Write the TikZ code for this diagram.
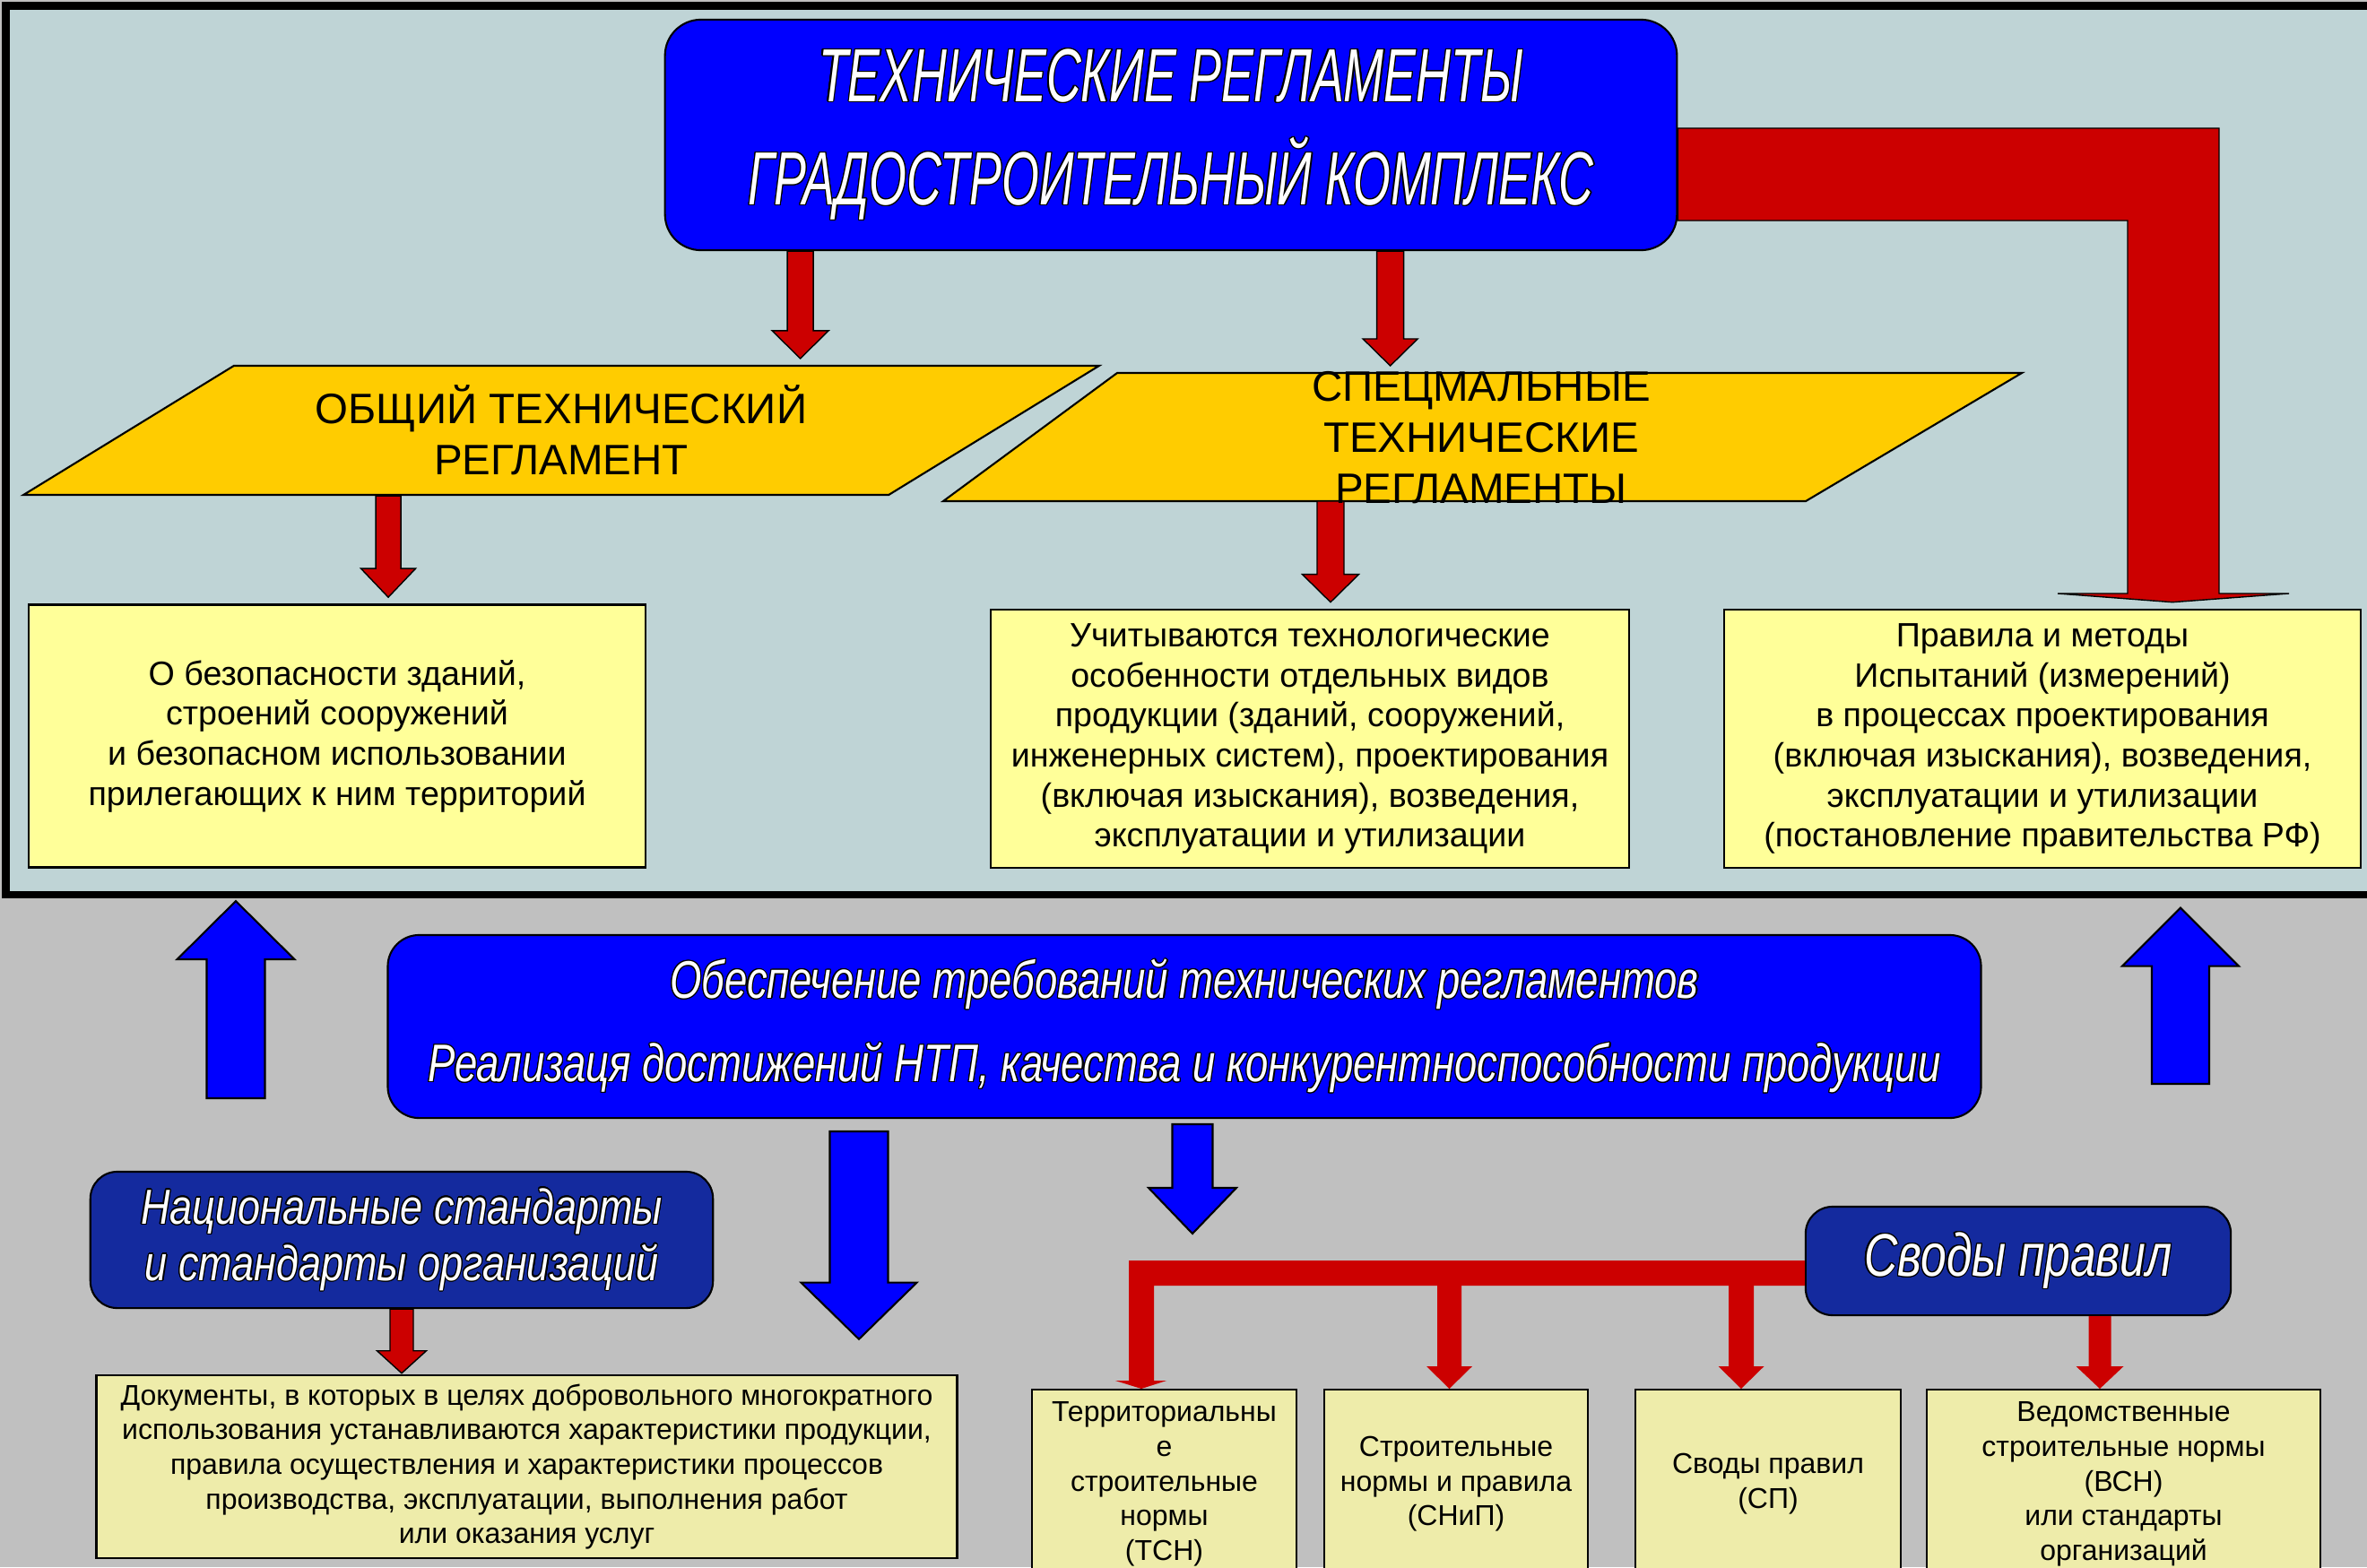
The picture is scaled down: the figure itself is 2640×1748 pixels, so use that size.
\documentclass[tikz,border=0pt]{standalone}
\usepackage{fontspec}
\setmainfont{Liberation Sans}
\newfontfamily\titlefont[FakeStretch=0.64]{Liberation Sans}
\newfontfamily\narrowfont[FakeStretch=0.77]{Liberation Sans}
\newfontfamily\semifont[FakeStretch=0.82]{Liberation Sans}
\usepackage[copies]{contour}
\contourlength{0.35pt}
\usetikzlibrary{calc,shapes.geometric}

\definecolor{paneltint}{RGB}{191,212,214}
\definecolor{backgray}{RGB}{192,192,192}
\definecolor{titleblue}{RGB}{0,0,255}
\definecolor{darkblue}{RGB}{20,42,158}
\definecolor{arrowred}{RGB}{204,0,0}
\definecolor{paragold}{RGB}{255,204,0}
\definecolor{noteyellow}{RGB}{255,255,153}
\definecolor{paleyellow}{RGB}{238,236,170}

\newcommand{\outl}[1]{\contour{black}{#1}}
% style, from, towards, shaft half, head half, head length, gap
\newcommand{\blockarrow}[7]{%
  \coordinate (ba-end) at (#2 |- #3);
  \coordinate (ba-tip) at ($(ba-end)!#7!(#2)$);
  \coordinate (ba-neck) at ($(ba-tip)!#6!(#2)$);
  \path[#1] ($(#2)+(-#4,0)$) -- ($(ba-neck)+(-#4,0)$) -- ($(ba-neck)+(-#5,0)$) -- (ba-tip)
    -- ($(ba-neck)+(#5,0)$) -- ($(ba-neck)+(#4,0)$) -- ($(#2)+(#4,0)$) -- cycle;
}

\begin{document}
\begin{tikzpicture}[x=0.01cm,y=-0.01cm,
    bluebox/.style={rectangle, draw=black, line width=0.6pt, rounded corners=0.4cm, fill=titleblue, text=white, align=center},
    darkbox/.style={bluebox, fill=darkblue, rounded corners=0.3cm},
    para/.style={trapezium, draw=black, line width=0.6pt, fill=paragold, trapezium stretches=true, inner sep=1pt},
    parashape/.style={draw=black, line width=0.6pt, fill=paragold},
    paratext/.style={align=center, font=\fontsize{13.5}{16.2}\selectfont},
    note/.style={rectangle, draw=black, line width=0.7pt, fill=noteyellow, align=center, inner sep=2pt, font=\fontsize{10.7}{12.7}\selectfont},
    lownote/.style={note, fill=paleyellow, font=\fontsize{9.1}{11}\selectfont},
    redarrow/.style={fill=arrowred, draw=black, line width=0.4pt},
    bluearrow/.style={fill=titleblue, draw=black, line width=0.6pt},
    busarrow/.style={fill=arrowred}]
  \clip (0,0) rectangle (2640,1748);
  \fill[backgray] (0,0) rectangle (2640,1748);
  \node[draw=black, line width=2.3pt, fill=paneltint, outer sep=0pt, minimum width=27cm, minimum height=9.91cm, anchor=north west] (panel) at (6.5,6.5) {};

  \node[bluebox, minimum width=11.28cm, minimum height=2.57cm, font=\titlefont\itshape\fontsize{23.9}{32.7}\selectfont] (techreg) at (1306,150.5)
    {\outl{ТЕХНИЧЕСКИЕ РЕГЛАМЕНТЫ}\\\outl{ГРАДОСТРОИТЕЛЬНЫЙ КОМПЛЕКС}};

  \node[para, trapezium left angle=31, trapezium right angle=149, minimum width=12.02cm, minimum height=1.44cm, paratext] (general) at (626,480)
    {ОБЩИЙ ТЕХНИЧЕСКИЙ\\РЕГЛАМЕНТ};
  \path[parashape] (1246,416) coordinate (sp-top) -- (2255,416) -- (2014,559) -- (1052,559) coordinate (sp-bottom) -- cycle;

  \node[note, minimum width=6.88cm, minimum height=2.93cm] (safety) at (376,821)
    {О безопасности зданий,\\строений сооружений\\и безопасном использовании\\прилегающих к ним территорий};
  \node[note, minimum width=7.12cm, minimum height=2.88cm] (features) at (1461,824)
    {Учитываются технологические\\особенности отдельных видов\\продукции (зданий, сооружений,\\инженерных систем), проектирования\\(включая изыскания), возведения,\\эксплуатации и утилизации};
  \node[note, minimum width=7.10cm, minimum height=2.88cm] (rules) at (2278,824)
    {Правила и методы\\Испытаний (измерений)\\в процессах проектирования\\(включая изыскания), возведения,\\эксплуатации и утилизации\\(постановление правительства РФ)};

  \path[redarrow] (techreg.east |- 0,143) -| (2475,662) -- ++(78,0) -- ($(rules.north -| 2423,0)+(0,-7)$)
    -- (2295,662) -- ++(78,0) |- (techreg.east |- 0,246) -- cycle;
  \coordinate (a1) at ($(techreg.south west)+(152,0)$);
  \coordinate (a2) at ($(techreg.south west)+(810,0)$);
  \coordinate (a3) at ($(general.south)+(-193,0)$);
  \coordinate (a4) at (1484,0 |- sp-bottom);
  \blockarrow{redarrow}{a1}{general.north}{14.5}{31.5}{0.31cm}{0.07cm}
  \blockarrow{redarrow}{a2}{sp-top}{15}{30.5}{0.30cm}{0.08cm}
  \blockarrow{redarrow}{a3}{safety.north}{14}{30.5}{0.32cm}{0.07cm}
  \blockarrow{redarrow}{a4}{features.north}{15}{31.5}{0.31cm}{0.07cm}
  \node[paratext] (special) at (1652,488.5) {СПЕЦМАЛЬНЫЕ\\ТЕХНИЧЕСКИЕ\\РЕГЛАМЕНТЫ};

  \node[bluebox, rounded corners=0.35cm, minimum width=17.76cm, minimum height=2.04cm, font=\narrowfont\itshape\fontsize{16.8}{26.5}\selectfont] (ensure) at (1321,1145)
    {\outl{Обеспечение требований технических регламентов}\\\outl{Реализаця достижений НТП, качества и конкурентноспособности продукции}};
  \coordinate (u1) at (263,1225);
  \coordinate (u2) at (2432,1209);
  \blockarrow{bluearrow}{u1}{panel.south}{32.5}{65.5}{0.65cm}{0.07cm}
  \blockarrow{bluearrow}{u2}{panel.south}{32}{65}{0.65cm}{0.145cm}

  \node[darkbox, minimum width=6.94cm, minimum height=1.52cm, font=\semifont\itshape\fontsize{15.6}{17.9}\selectfont] (national) at (448,1383)
    {\outl{Национальные стандарты}\\\outl{и стандарты организаций}};
  \node[lownote, minimum width=9.59cm, minimum height=2.04cm] (docs) at (587.5,1636)
    {Документы, в которых в целях добровольного многократного\\использования устанавливаются характеристики продукции,\\правила осуществления и характеристики процессов\\производства, эксплуатации, выполнения работ\\или оказания услуг};
  \blockarrow{redarrow}{national.south}{docs.north}{13}{27.5}{0.25cm}{0.01cm}
  \coordinate (d1) at (958,1262);
  \blockarrow{bluearrow}{d1}{docs.north}{32.5}{64.5}{0.63cm}{0.39cm}

  \node[darkbox, minimum width=4.74cm, minimum height=1.21cm, font=\narrowfont\itshape\fontsize{19.1}{23}\selectfont] (codes) at (2251,1406.5)
    {\outl{Своды правил}};
  \node[lownote, minimum width=2.95cm, minimum height=2.10cm, anchor=north] (tsn) at (1298.5,1549)
    {Территориальны\\е\\строительные\\нормы\\(ТСН)};
  \node[lownote, minimum width=2.94cm, minimum height=2.10cm, anchor=north] (snip) at (1624,1549)
    {Строительные\\нормы и правила\\(СНиП)};
  \node[lownote, minimum width=2.96cm, minimum height=2.10cm, anchor=north] (sp) at (1972,1549)
    {Своды правил\\(СП)};
  \node[lownote, minimum width=4.39cm, minimum height=2.10cm, anchor=north] (vsn) at (2368.5,1549)
    {Ведомственные\\строительные нормы\\(ВСН)\\или стандарты\\организаций};

  \coordinate (bus) at (1259,1406);
  \path[busarrow] (codes.west |- bus) -- (bus) -- (1259,1540) -- (1244,1540) -- (tsn.north -| 1273,0)
    -- (1301,1540) -- (1287,1540) -- (1287,1434) -- (codes.west |- 0,1434) -- cycle;
  \coordinate (d2) at (1330,1254);
  \blockarrow{bluearrow}{d2}{bus}{22.5}{49}{0.51cm}{0.30cm}
  \coordinate (b2) at (1616.5,1425);
  \coordinate (b3) at (1942,1425);
  \coordinate (b4) at ($(codes.south)+(91,0)$);
  \blockarrow{busarrow}{b2}{snip.north}{13.5}{25.5}{0.25cm}{0cm}
  \blockarrow{busarrow}{b3}{sp.north}{14}{25.5}{0.25cm}{0cm}
  \blockarrow{busarrow}{b4}{vsn.north}{12.5}{26.5}{0.25cm}{0cm}
\end{tikzpicture}
\end{document}
